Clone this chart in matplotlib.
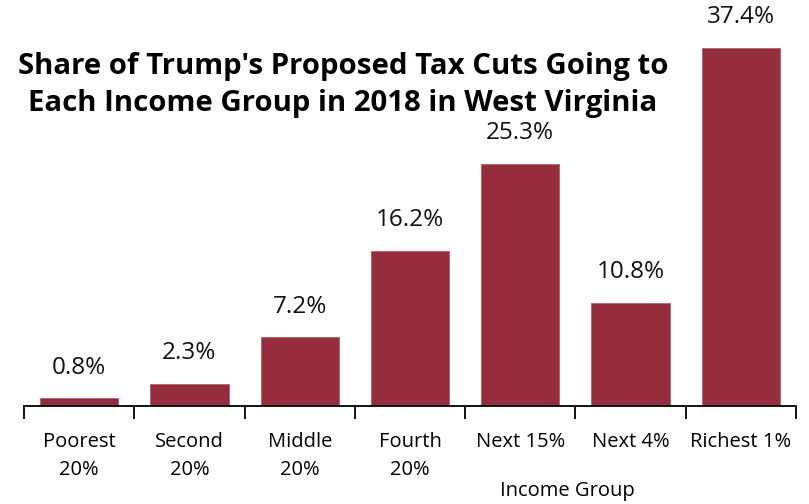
import matplotlib
matplotlib.use("Agg")
import matplotlib.pyplot as plt

categories = ["Poorest\n20%", "Second\n20%", "Middle\n20%", "Fourth\n20%", "Next 15%", "Next 4%", "Richest 1%"]
shares = [0.8, 2.3, 7.2, 16.2, 25.3, 10.8, 37.4]
value_labels = ["0.8%", "2.3%", "7.2%", "16.2%", "25.3%", "10.8%", "37.4%"]
title = "Share of Trump's Proposed Tax Cuts Going to\nEach Income Group in 2018 in West Virginia"
xlabel = "Income Group"

plt.rcParams['font.family'] = ['Open Sans', 'DejaVu Sans']
W, H = 809, 504
fig = plt.figure(figsize=(W / 100, H / 100), dpi=100)
ax = fig.add_axes([24 / W, (H - 406) / H, (796 - 24) / W, (406 - 23) / H])

x = list(range(len(categories)))
ax.bar(x, shares, width=0.71, color="#962D3E", edgecolor="#B5606C", linewidth=0.6)
ax.set_xlim(-0.5, len(categories) - 0.5)
ax.set_ylim(0, 40)

for xi, v, lab in zip(x, shares, value_labels):
    ax.annotate(lab, (xi, v), xytext=(0, 22), textcoords="offset points",
                ha="center", va="center", fontsize=17.5, color="#111111",
                annotation_clip=False)

for s in ["top", "right", "left"]:
    ax.spines[s].set_visible(False)
ax.spines["bottom"].set_linewidth(1.3)
ax.set_yticks([])
ax.set_xticks([i - 0.5 for i in range(len(categories) + 1)], minor=False)
ax.set_xticklabels([])
ax.tick_params(axis="x", which="major", length=9, width=1.3, direction="out")
ax.set_xticks(x, minor=True)
ax.set_xticklabels(categories, minor=True, fontsize=14.5, linespacing=1.5, va="top")
ax.tick_params(axis="x", which="minor", length=0, pad=19)

fig.text(567 / W, 1 - 491 / H, xlabel, ha="center", va="center", fontsize=14.5)
fig.text(343 / W, 1 - 85 / H, title, ha="center", va="center", fontsize=21.2,
         fontweight="bold", linespacing=1.33, color="black")

fig.savefig("out.png", dpi=100)
